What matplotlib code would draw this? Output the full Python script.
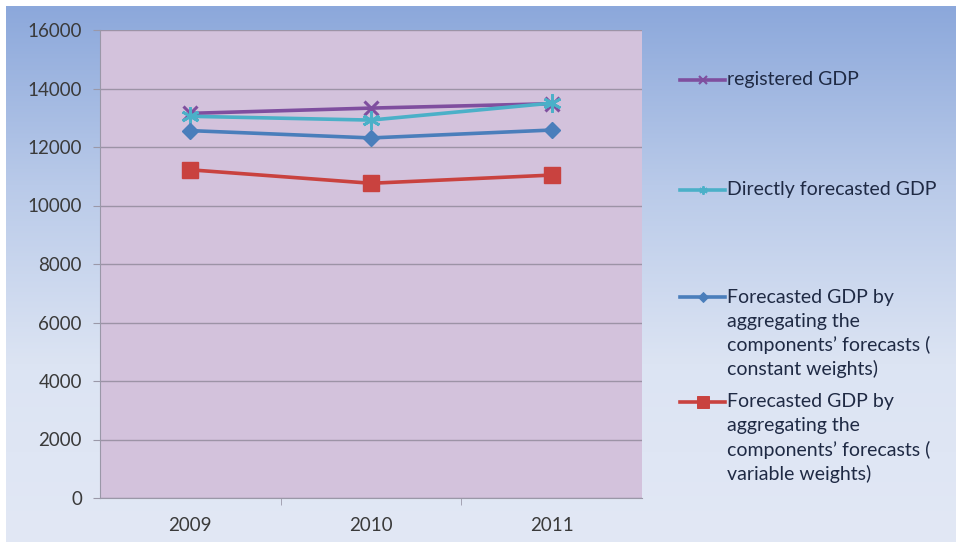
import numpy as np
import matplotlib
matplotlib.use("Agg")
import matplotlib.pyplot as plt
from matplotlib.lines import Line2D
from matplotlib.colors import LinearSegmentedColormap

years = ["2009", "2010", "2011"]
registered = [13150, 13330, 13480]
direct = [13050, 12920, 13500]
const_w = [12560, 12310, 12580]
var_w = [11220, 10760, 11040]

labels = ["registered GDP",
          "Directly forecasted GDP",
          "Forecasted GDP by\naggregating the\ncomponents\u2019 forecasts (\nconstant weights)",
          "Forecasted GDP by\naggregating the\ncomponents\u2019 forecasts (\nvariable weights)"]
yticks = [0, 2000, 4000, 6000, 8000, 10000, 12000, 14000, 16000]

plt.rcParams['font.family'] = ['Lato', 'DejaVu Sans']
W, H = 958, 546
fig = plt.figure(figsize=(W/100, H/100), dpi=100, facecolor='white')

# gradient background
bg = fig.add_axes([0, 0, 1, 1], zorder=-10)
bg.set_xlim(0, W); bg.set_ylim(H, 0); bg.axis('off')
cmap = LinearSegmentedColormap.from_list('g', ['#8CA8DB', '#B9CAE9', '#DCE4F3', '#E2E8F5'], N=256)
grad = np.linspace(0, 1, 256).reshape(-1, 1)
bg.imshow(grad, cmap=cmap, aspect='auto', extent=[6, W-2, H-4, 6], interpolation='bicubic')

ax = fig.add_axes([100/W, (H-498)/H, 542/W, 468/H])
ax.set_facecolor('#D3C2DC')
x = np.arange(len(years))

styles = [
    dict(color='#7F4F9F', marker='x', ms=10, mew=2.2, lms=6),
    dict(color='#4BB0C8', marker=(6, 2, 0), ms=13, mew=2.0, lms=6),
    dict(color='#4A7EBB', marker='D', ms=8, mew=1, lms=5),
    dict(color='#C9423F', marker='s', ms=11, mew=1, lms=8),
]
series = [registered, direct, const_w, var_w]
for s, st in zip(series, styles):
    ax.plot(x, s, lw=2.6, color=st['color'], marker=st['marker'], ms=st['ms'],
            mew=st['mew'], mfc=st['color'], mec=st['color'], zorder=3)

ax.set_xlim(-0.5, 2.5)
ax.set_ylim(0, 16000)
ax.set_yticks(yticks)
ax.set_yticklabels([str(v) for v in yticks])
ax.set_xticks(x)
ax.set_xticklabels(years)
ax.set_xticks([0.5, 1.5], minor=True)
ax.tick_params(axis='x', which='major', length=0, pad=14, labelsize=13.5, labelcolor='#3A3A3A')
ax.tick_params(axis='x', which='minor', length=5, color='#9A98A8', direction='out')
ax.tick_params(axis='y', length=5, color='#9A98A8', pad=8, labelsize=13.5, labelcolor='#3A3A3A')
ax.grid(axis='y', color='#9C93A6', lw=1.0)
ax.set_axisbelow(True)
for sp in ['top', 'right']:
    ax.spines[sp].set_visible(False)
for sp in ['left', 'bottom']:
    ax.spines[sp].set_color('#9A98A8')

# legend (manual layout)
leg_y = [80, 190, 297, 402]
for lab, st, yy in zip(labels, styles, leg_y):
    fy = 1 - yy/H
    fig.add_artist(Line2D([680/W, 725/W], [fy, fy], transform=fig.transFigure,
                          color=st['color'], lw=2.6))
    fig.add_artist(Line2D([702.5/W], [fy], transform=fig.transFigure,
                          color=st['color'], marker=st['marker'], ms=st['lms'],
                          mew=st['mew']*0.7, mfc=st['color'], mec=st['color']))
    lines = lab.split('\n')
    for i, line in enumerate(lines):
        fig.text(727/W, 1 - (yy + 24*i)/H, line, fontsize=14, color='#1F2A44',
                 va='center', ha='left')

fig.savefig('out.png', dpi=100, facecolor='white')
